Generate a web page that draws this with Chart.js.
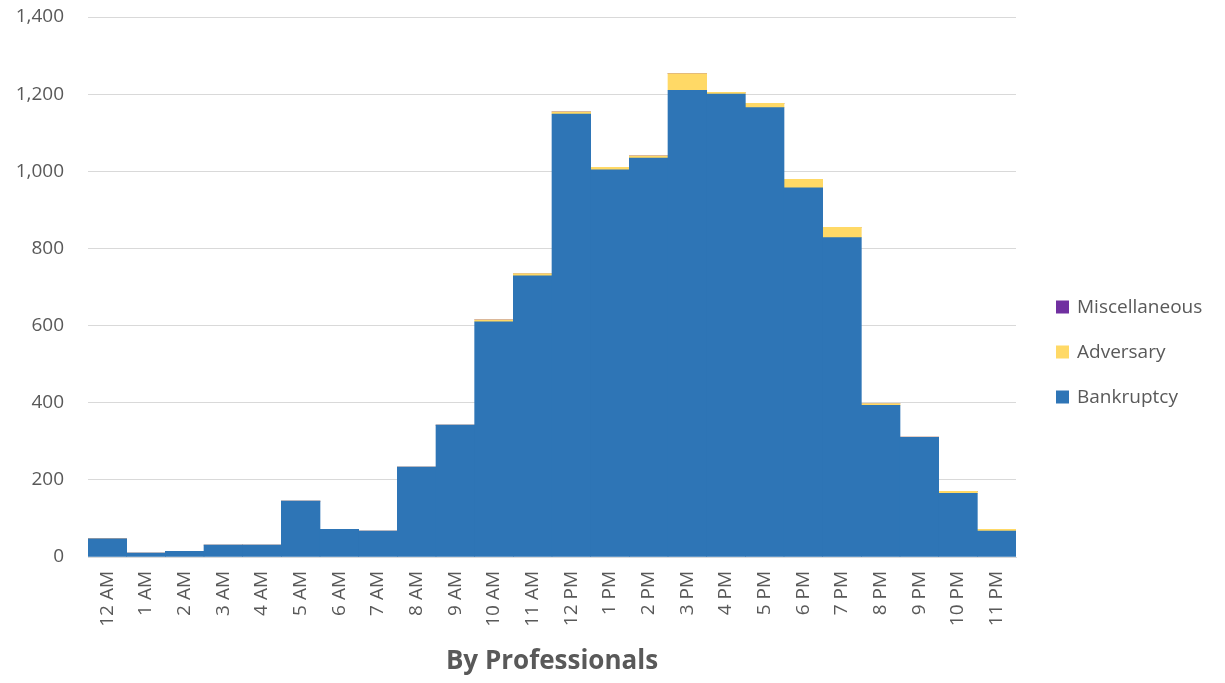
<!DOCTYPE html>
<html>
<head>
<meta charset="utf-8">
<script src="https://cdn.jsdelivr.net/npm/chart.js@4/dist/chart.umd.min.js"></script>
<style>
html,body{margin:0;padding:0;background:#fff;}
#wrap{width:1225px;height:683px;position:relative;}
</style>
</head>
<body>
<div id="wrap"><canvas id="c" width="1225" height="683"></canvas></div>
<script>
const categories = ["12 AM","1 AM","2 AM","3 AM","4 AM","5 AM","6 AM","7 AM","8 AM","9 AM","10 AM","11 AM","12 PM","1 PM","2 PM","3 PM","4 PM","5 PM","6 PM","7 PM","8 PM","9 PM","10 PM","11 PM"];
const bankruptcy = [47,10,15,31,31,145,72,67,233,342,610,729,1148,1004,1034,1210,1200,1165,957,828,393,310,165,67];
const adversary = [0,0,0,0,0,0,0,0,0,0,5,6,6,6,6,43,5,11,22,27,5,1,5,5];
const miscellaneous = [0,0,0,0,0,0,0,0,0,0,0,0,0,0,0,0,0,0,0,0,0,0,0,0];
const yTicks = [0,200,400,600,800,1000,1200,1400];
const xTitle = "By Professionals";

const FONT = "'Open Sans', sans-serif";
const GRAY = "#595959";

const legendPlugin = {
  id: 'sideLegend',
  afterDraw(chart) {
    const ctx = chart.ctx;
    const items = chart.data.datasets.slice().reverse();
    const x = 1056, y0 = 307, step = 45, box = 13;
    ctx.save();
    ctx.font = "19px " + FONT;
    ctx.textBaseline = 'middle';
    ctx.textAlign = 'left';
    items.forEach((ds, i) => {
      const y = y0 + i * step;
      ctx.fillStyle = ds.backgroundColor;
      ctx.fillRect(x, y - box / 2, box, box);
      ctx.fillStyle = GRAY;
      ctx.fillText(ds.label, x + 21, y + 1);
    });
    ctx.restore();
  }
};

new Chart(document.getElementById('c'), {
  type: 'bar',
  data: {
    labels: categories,
    datasets: [
      { label: 'Bankruptcy', data: bankruptcy, backgroundColor: '#2E75B6', borderWidth: 0 },
      { label: 'Adversary', data: adversary, backgroundColor: '#FFD966', borderWidth: 0 },
      { label: 'Miscellaneous', data: miscellaneous, backgroundColor: '#7030A0', borderWidth: 0 }
    ]
  },
  options: {
    responsive: false,
    animation: false,
    layout: { padding: { top: 17, right: 209, left: 0, bottom: 6 } },
    datasets: { bar: { categoryPercentage: 1.0, barPercentage: 1.0 } },
    plugins: {
      legend: { display: false },
      tooltip: { enabled: false }
    },
    scales: {
      x: {
        stacked: true,
        grid: { display: false, drawTicks: false },
        border: { display: true, color: '#d9d9d9', width: 1 },
        ticks: {
          color: GRAY, font: { family: FONT, size: 19 },
          minRotation: 90, maxRotation: 90, padding: 14, autoSkip: false
        },
        title: {
          display: true, text: xTitle, color: GRAY,
          font: { family: FONT, size: 26, weight: 'bold' },
          padding: { top: 0, bottom: 0 }
        },
        afterFit(scale) { scale.height = 120; scale.paddingLeft = 0; scale.paddingRight = 0; }
      },
      y: {
        stacked: true,
        min: 0, max: 1400,
        afterBuildTicks(scale) { scale.ticks = yTicks.map(v => ({ value: v })); },
        grid: { color: '#d9d9d9', lineWidth: 1, drawTicks: false },
        border: { display: false },
        ticks: {
          color: GRAY, font: { family: FONT, size: 19 }, padding: 24,
          callback: v => v.toLocaleString('en-US')
        },
        afterFit(scale) { scale.width = 88; scale.paddingTop = 0; scale.paddingBottom = 0; }
      }
    }
  },
  plugins: [legendPlugin]
});
</script>
</body>
</html>
